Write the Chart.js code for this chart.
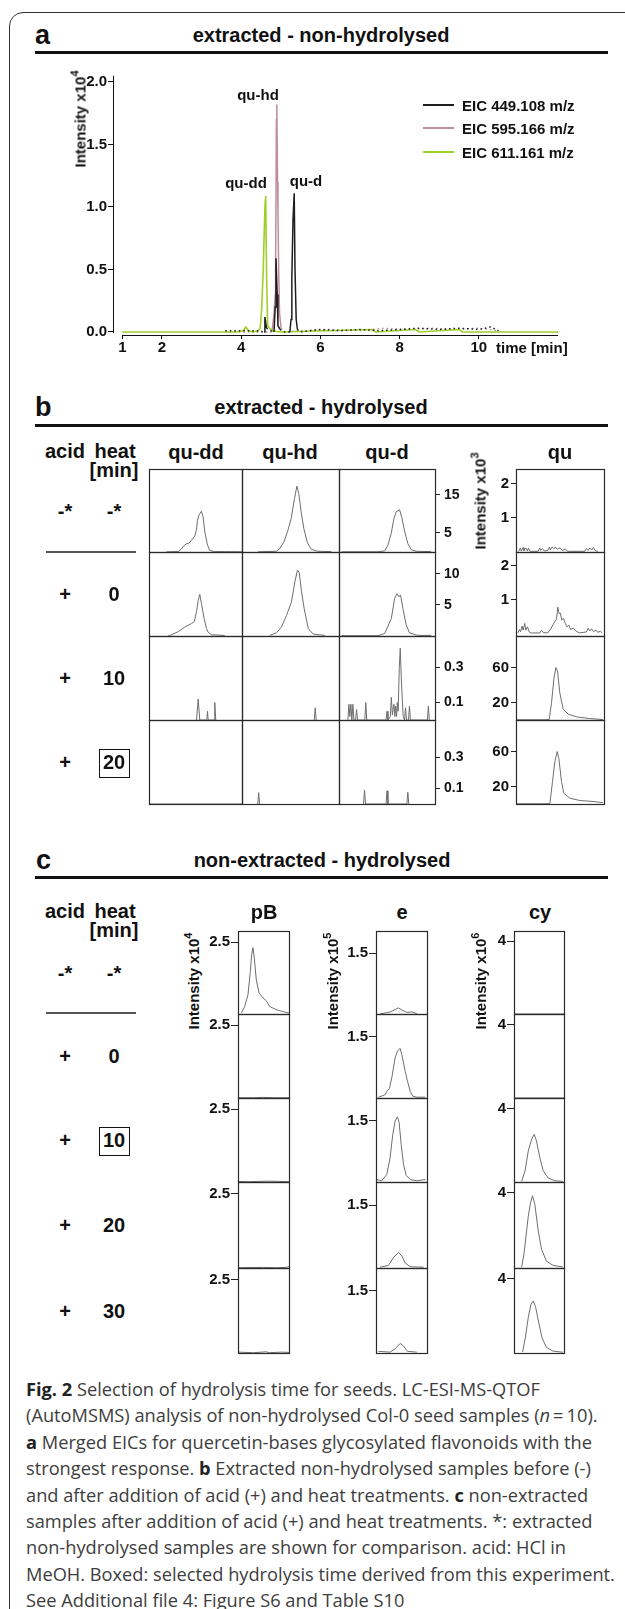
<!DOCTYPE html>
<html><head><meta charset="utf-8">
<script src="https://cdn.jsdelivr.net/npm/chart.js@4/dist/chart.umd.min.js"></script>
<style>
html,body{margin:0;padding:0;background:#fff}
body{width:625px;height:1609px;overflow:hidden;position:relative;font-family:"Liberation Sans",Arial,Helvetica,sans-serif;color:#111}
.t{position:absolute;white-space:nowrap;font-weight:bold;line-height:1;transform:translate(-50%,-50%)}
.l{position:absolute;white-space:nowrap;font-weight:bold;line-height:1;transform:translate(0,-50%)}
.rot{position:absolute;white-space:nowrap;font-weight:bold;line-height:1;font-size:15px;transform:translate(-50%,-50%) rotate(-90deg)}
.sup{font-size:11px;position:relative;top:-7px}
.rule{position:absolute;background:#111}
canvas{position:absolute}
#frame{position:absolute;left:9px;top:12px;width:700px;height:1700px;border:1.5px solid #333;border-radius:14px}
#cap{position:absolute;left:26px;top:1376px;font-family:"Open Sans",sans-serif;color:#3d3d3d;white-space:nowrap;line-height:26.4px}
#cap b{color:#222;font-weight:700}
</style>
</head><body>
<div id="frame"></div>
<script>
// ---------------- DATA ----------------
// Panel a: merged EICs (time [min], intensity x10^4)
const eic449Time = [3.6, 4.4, 4.58, 4.60, 4.64, 4.75, 4.83, 4.86, 4.88, 4.91, 4.93, 4.98, 5.1, 5.23, 5.26, 5.28, 5.31, 5.34, 5.36, 5.39, 5.42, 5.49, 6.0, 6.5, 7.0, 7.5, 8.0, 8.5, 9.0, 9.5, 10.0, 10.3, 10.5];
const eic449Int  = [0.01, 0.01, 0, 0.12, 0.03, 0.01, 0, 0.2, 0.59, 0.3, 0.05, 0.02, 0, 0, 0.1, 0.44, 0.9, 1.11, 0.5, 0.1, 0.02, 0, 0.02, 0.01, 0.02, 0.01, 0.02, 0.03, 0.02, 0.03, 0.02, 0.04, 0.01];
const eic595Time = [3.6, 4.5, 4.78, 4.83, 4.86, 4.87, 4.89, 4.90, 4.92, 4.93, 4.95, 4.97, 5.01, 5.06, 5.5, 6.2, 7.0, 7.6, 8.2, 8.8, 9.4, 10.0, 10.5];
const eic595Int  = [0, 0, 0, 0.15, 0.3, 0.5, 1.7, 1.82, 1.2, 0.95, 0.45, 0.15, 0.03, 0, 0.01, 0.02, 0.01, 0.03, 0.02, 0.03, 0.02, 0.03, 0.01];
const eic611Time = [1, 3.9, 4.05, 4.12, 4.18, 4.3, 4.43, 4.48, 4.52, 4.56, 4.60, 4.62, 4.64, 4.67, 4.72, 4.78, 5.0, 7.3, 7.4, 8.4, 8.5, 9.5, 9.6, 12];
const eic611Int  = [0, 0, 0.01, 0.04, 0.01, 0, 0.01, 0.03, 0.19, 0.52, 1.0, 1.09, 0.5, 0.05, 0.03, 0.01, 0, 0.02, 0, 0.02, 0, 0.02, 0, 0];
const aSeriesLabels = ['EIC 449.108 m/z', 'EIC 595.166 m/z', 'EIC 611.161 m/z'];
const aXTicks = [1, 2, 4, 6, 8, 10];
const aYTicks = [0, 0.5, 1.0, 1.5, 2.0];
const aPeakLabels = ['qu-hd', 'qu-dd', 'qu-d'];

// Panel b: extracted - hydrolysed (relative retention position 0-100, intensity x10^3)
const bColumns = ['qu-dd', 'qu-hd', 'qu-d', 'qu'];
const bAcid = ['-*', '+', '+', '+'];
const bHeat = ['-*', '0', '10', '20'];
const quddR1 = [[18.9,0.05],[31.4,0.1],[35,0.8],[36.8,1.5],[40.4,2.2],[42.9,2.3],[45.7,3.1],[49.3,4.2],[51.1,6.0],[52.1,8.3],[53.9,9.8],[56.4,10.7],[58.2,9.2],[60,5.3],[62.9,1.8],[65.4,0.4],[70.7,0.1],[81.4,0.1],[100,0.05]];
const quhdR1 = [[16.6,0.05],[35.5,0.2],[38.6,0.8],[43.1,2.6],[46.9,5.3],[50.7,8.8],[54.1,14.0],[56.6,17.3],[58.6,15.3],[61,10.5],[63.8,6.1],[67.2,2.6],[71.4,0.7],[78.3,0.2],[92.1,0.1]];
const qudR1  = [[2.8,0.05],[40.7,0.05],[47.6,0.3],[51,1.8],[54.5,5.0],[57.2,8.8],[59.7,10.6],[63.1,11.1],[65.5,9.0],[68.3,5.5],[71.7,2.2],[75.2,0.6],[80.3,0.2],[95.9,0.1]];
const quddR2 = [[20.7,0.05],[24.3,0.2],[31.4,0.7],[38.6,1.45],[45.7,2.0],[48.6,2.3],[51.1,3.9],[52.9,5.7],[54.6,6.7],[56.4,5.2],[59.3,2.8],[61.8,1.2],[63.6,0.6],[67.1,0.2],[81.4,0.1]];
const quhdR2 = [[28.6,0.1],[35.5,0.5],[40.7,1.45],[45.9,3.3],[51,5.5],[54.5,8.7],[57.2,10.6],[59,10.2],[61.4,7.1],[64.1,4.4],[68.3,1.2],[73.4,0.3],[85.5,0.1]];
const qudR2  = [[2.8,0.05],[40.7,0.05],[47.6,0.4],[54.5,2.8],[57.9,6.0],[60.3,6.8],[62.4,6.3],[64.1,6.6],[66.6,4.4],[70,1.8],[73.4,0.5],[82,0.1],[95.9,0.1]];
const quddR3 = [[51.1,0],[52.9,0.12],[54.6,0],[62.1,0],[62.9,0.05],[63.6,0],[70,0],[70.7,0.1],[71.8,0]];
const quhdR3 = [[74.5,0],[75.5,0.07],[76.5,0]];
const qudR3  = [[9.3,0],[10.3,0.09],[11.3,0.02],[12.4,0.09],[13.4,0],[14.5,0.09],[15.5,0],[17.3,0],[18.3,0.06],[19.3,0],[26.9,0],[27.9,0.1],[28.9,0],[49,0],[50,0.05],[51,0],[53.5,0.02],[54.5,0.13],[55.6,0.03],[57.2,0.09],[58.2,0.02],[59,0.08],[60,0.02],[60.7,0.1],[61.6,0.05],[62.8,0.3],[63.8,0.41],[64.8,0.25],[65.9,0.12],[66.9,0.02],[68.3,0],[69.3,0.07],[70.3,0],[72.4,0],[73.4,0.08],[74.4,0],[92.1,0],[93.1,0.08],[94.1,0]];
const quddR4 = [[0,0],[100,0]];
const quhdR4 = [[16.2,0],[17.2,0.073],[18.2,0]];
const qudR4  = [[25.6,0],[26.6,0.09],[27.6,0],[49,0],[50,0.085],[51,0],[70.7,0],[71.7,0.075],[72.7,0]];
const quR1 = [[3,0.02],[5,0.12],[6,0.03],[8,0.13],[9,0.04],[11,0.12],[13,0.03],[14,0.11],[16,0.02],[25,0.02],[27,0.12],[28,0.05],[30,0.1],[32,0.03],[36,0.05],[38,0.14],[39,0.06],[41,0.15],[43,0.1],[45,0.14],[47,0.08],[50,0.12],[53,0.04],[56,0.09],[58,0.03],[60,0.02],[78,0.02],[80,0.1],[82,0.05],[84,0.12],[86,0.06],[88,0.13],[90,0.04],[93,0.02]];
const quR2 = [[2,0.02],[4,0.12],[5,0.05],[7,0.22],[8,0.1],[10,0.3],[11,0.1],[13,0.2],[15,0.05],[17,0.02],[27,0.02],[29,0.1],[31,0.03],[36,0.02],[40,0.16],[42,0.26],[44,0.35],[46,0.42],[47.5,0.78],[49,0.59],[50.5,0.6],[52,0.4],[54,0.45],[56,0.3],[58,0.2],[60,0.25],[62,0.12],[65,0.16],[68,0.08],[72,0.02],[80,0.05],[82,0.16],[84,0.08],[86,0.14],[88,0.06],[91,0.1],[93,0.04],[96,0.07],[98,0.02]];
const quR3 = [[0,0.3],[30,0.3],[37.7,0.5],[40.4,20],[43,46.6],[45.3,60],[47.2,56],[49.8,31],[53.6,12.4],[59.2,6.7],[68.7,3.6],[83.8,1.7],[98.9,0.5]];
const quR4 = [[0,0.3],[30,0.3],[38.5,0.5],[41.5,25.7],[44.2,48.6],[46.8,60],[48.7,52],[51.7,25.7],[54.3,12.4],[61.1,6.7],[72.5,4],[87.5,2.9],[98.9,1.5]];
const bRowMin = [0, 0, 0, 0];
const bRowMax = [21.8, 13.5, 0.48, 0.54];
const bRowTicks = [[5, 15], [5, 10], [0.1, 0.3], [0.1, 0.3]];
const quRowMin = [0, -0.07, 0, 0];
const quRowMax = [2.44, 2.4, 96, 96];
const quRowTicks = [[1, 2], [1, 2], [20, 60], [20, 60]];

// Panel c: non-extracted - hydrolysed
const cColumns = ['pB', 'e', 'cy'];
const cExponents = ['4', '5', '6'];
const cAcid = ['-*', '+', '+', '+', '+'];
const cHeat = ['-*', '0', '10', '20', '30'];
const pbR1 = [[6.5,0.03],[13.1,0.26],[19.6,0.67],[24.2,1.48],[26.8,2.06],[29.4,2.31],[32,1.94],[35.9,1.19],[41.2,0.73],[49,0.56],[55.6,0.46],[62.1,0.26],[75.2,0.15],[85,0.1],[91.5,0.07],[100,0.03]];
const pbR2 = [[0,0.01],[30,0.01],[50,0.02],[70,0.01],[100,0.01]];
const pbR3 = [[0,0.02],[20,0.01],[40,0.02],[60,0.03],[80,0.02],[100,0.01]];
const pbR4 = [[0,0.01],[50,0.02],[75,0.01],[95,0.02],[100,0.05]];
const pbR5 = [[0,0.03],[30,0.01],[55,0.04],[62,0.01],[85,0.03],[100,0.02]];
const eR1 = [[7.9,0],[27.6,0.05],[37.5,0.11],[44.1,0.15],[50.7,0.1],[60.5,0.04],[70.4,0.05],[80.3,0.01]];
const eR2 = [[4.6,0.015],[17.8,0.08],[21.1,0.16],[26.3,0.23],[30.9,0.49],[37.5,0.98],[42.1,1.15],[47.4,1.21],[50.7,1.06],[57.2,0.65],[61.8,0.41],[67.1,0.16],[72.4,0.04],[80.3,0.02],[96.7,0.02]];
const eR3 = [[1.3,0.06],[11.2,0.03],[21.1,0.18],[27.6,0.59],[32.9,1.16],[37.5,1.49],[42.1,1.59],[45.4,1.45],[49.3,0.92],[53.9,0.43],[59.2,0.16],[67.1,0.06],[80.3,0.03],[96.7,0.06]];
const eR4 = [[7.9,0.02],[24.3,0.06],[34.2,0.25],[44.1,0.37],[50.7,0.29],[57.2,0.12],[67.1,0.03],[93.4,0.02]];
const eR5 = [[4.6,0.04],[27.6,0.02],[37.5,0.1],[47.4,0.23],[53.9,0.17],[61.8,0.04],[80.3,0.02]];
const cyR1 = [[0,0],[100,0]];
const cyR2 = [[0,0],[100,0]];
const cyR3 = [[15.2,0.03],[21.9,0.58],[28.5,1.68],[35.1,2.32],[40.4,2.59],[45,2.23],[51.7,1.32],[58.3,0.62],[68.2,0.22],[81.5,0.07],[98,0.03]];
const cyR4 = [[15.2,0.04],[19.9,0.73],[28.5,2.74],[33.1,3.47],[37.1,3.84],[41.7,3.38],[48.3,2.01],[55,1.0],[64.9,0.36],[78.1,0.14],[98,0.05]];
const cyR5 = [[17.2,0.05],[22.5,0.8],[28.5,1.9],[33.8,2.6],[38.4,2.8],[43,2.5],[49.7,1.6],[56.3,0.8],[64.9,0.3],[78.1,0.1],[98,0.04]];
const cColMax = [2.89, 2.05, 4.57];
const cColTicks = [[2.5], [1.5], [4]];

const captionLines = [
  '<b>Fig. 2</b> Selection of hydrolysis time for seeds. LC-ESI-MS-QTOF',
  '(AutoMSMS) analysis of non-hydrolysed Col-0 seed samples (<i>n</i>\u2009=\u200910).',
  '<b>a</b> Merged EICs for quercetin-bases glycosylated flavonoids with the',
  'strongest response. <b>b</b> Extracted non-hydrolysed samples before (-)',
  'and after addition of acid (+) and heat treatments. <b>c</b> non-extracted',
  'samples after addition of acid (+) and heat treatments. *: extracted',
  'non-hydrolysed samples are shown for comparison. acid: HCl in',
  'MeOH. Boxed: selected hydrolysis time derived from this experiment.',
  'See Additional file 4: Figure S6 and Table S10'
];

// ---------------- LAYOUT HELPERS ----------------
const FONT = '"Liberation Sans", Arial, Helvetica, sans-serif';
Chart.defaults.font.family = FONT;
Chart.defaults.font.weight = 'bold';
Chart.defaults.color = '#111';

function el(cls, html, x, y, size, extra) {
  const d = document.createElement('div');
  d.className = cls; d.innerHTML = html;
  d.style.left = x + 'px'; d.style.top = y + 'px';
  if (size) d.style.fontSize = size + 'px';
  if (extra) Object.assign(d.style, extra);
  document.body.appendChild(d); return d;
}
function rule(x, y, w, h, color) {
  const d = document.createElement('div'); d.className = 'rule';
  Object.assign(d.style, {left: x + 'px', top: y + 'px', width: w + 'px', height: h + 'px', background: color || '#111'});
  document.body.appendChild(d);
}
function box(x, y, w, h) {
  const d = document.createElement('div');
  Object.assign(d.style, {position: 'absolute', left: x + 'px', top: y + 'px', width: w + 'px', height: h + 'px', border: '1.5px solid #111', boxSizing: 'border-box'});
  document.body.appendChild(d);
}
function addCanvas(x, y, w, h) {
  const c = document.createElement('canvas');
  c.width = w; c.height = h;
  c.style.left = x + 'px'; c.style.top = y + 'px'; c.style.width = w + 'px'; c.style.height = h + 'px';
  document.body.appendChild(c); return c;
}
const framePlugin = {
  id: 'frame',
  afterDatasetsDraw(chart, args, opts) {
    if (!opts || !opts.show) return;
    const a = chart.chartArea, c = chart.ctx;
    c.save(); c.strokeStyle = '#2a2a2a'; c.lineWidth = 1.2;
    c.strokeRect(Math.round(a.left) + 0.5, Math.round(a.top) + 0.5, Math.round(a.right - a.left), Math.round(a.bottom - a.top));
    c.restore();
  }
};

function cell(L, T, R, B, data, ymin, ymax, axis) {
  const P = 6, VP = 22, aw = axis ? axis.w : 0;
  const left = L - P - (axis && axis.side === 'left' ? aw : 0);
  const top = T - VP;
  const W = (R - L) + 2 * P + aw, H = (B - T) + 2 * VP;
  const cv = addCanvas(left, top, W, H);
  const y = {min: ymin, max: ymax, display: !!axis};
  if (axis) Object.assign(y, {
    position: axis.side,
    afterFit: s => { s.width = aw; },
    afterBuildTicks: s => { s.ticks = axis.ticks.map(v => ({value: v})); },
    ticks: {font: {size: axis.fs, weight: 'bold', family: FONT}, color: '#111', padding: axis.pad, callback: v => String(v)},
    grid: {drawOnChartArea: false, tickLength: axis.tl, color: '#222', lineWidth: 1},
    border: {display: false}
  });
  new Chart(cv, {
    type: 'line',
    data: {datasets: [{data: data.map(p => ({x: p[0], y: p[1]})), borderColor: '#6e6e6e', borderWidth: 1, pointRadius: 0, tension: 0, clip: false}]},
    options: {
      responsive: false, animation: false, devicePixelRatio: 1, events: [],
      layout: {padding: {left: P, right: P, top: VP, bottom: VP}},
      scales: {x: {type: 'linear', min: 0, max: 100, display: false}, y},
      plugins: {legend: {display: false}, tooltip: {enabled: false}, frame: {show: true}}
    },
    plugins: [framePlugin]
  });
}

// ---------------- PANEL A ----------------
el('l', 'a', 35, 35, 27);
el('t', 'extracted - non-hydrolysed', 321, 35, 20);
rule(35, 51, 573, 3);

const zip = (t, v) => t.map((x, i) => ({x, y: v[i]}));
const aColors = ['#1e1e1e', '#c08e98', '#9fd027'];
const noiseDots = {borderDash: c => (c.p0.parsed.y < 0.05 && c.p1.parsed.y < 0.05) ? [1.5, 3] : undefined};
const aCv = addCanvas(60, 56, 540, 316);
const axesPlugin = {
  id: 'axesA',
  afterDraw(ch) {
    const c = ch.ctx, xs = ch.scales.x, ys = ch.scales.y;
    c.save(); c.strokeStyle = '#111'; c.lineWidth = 1;
    const yb = Math.round(ch.chartArea.bottom) + 0.5;
    c.beginPath(); c.moveTo(xs.getPixelForValue(1), yb); c.lineTo(xs.getPixelForValue(12), yb); c.stroke();
    const xl = Math.round(ch.chartArea.left) - 0.5;
    c.beginPath(); c.moveTo(xl, ys.getPixelForValue(2.05)); c.lineTo(xl, ys.getPixelForValue(0) + 1); c.stroke();
    c.restore();
  }
};
new Chart(aCv, {
  type: 'line',
  data: {datasets: [
    {label: aSeriesLabels[0], data: zip(eic449Time, eic449Int), borderColor: aColors[0], borderWidth: 1.5, pointRadius: 0, tension: 0, segment: noiseDots},
    {label: aSeriesLabels[2], data: zip(eic611Time, eic611Int), borderColor: aColors[2], borderWidth: 1.6, pointRadius: 0, tension: 0},
    {label: aSeriesLabels[1], data: zip(eic595Time, eic595Int), borderColor: aColors[1], borderWidth: 1.5, pointRadius: 0, tension: 0, segment: noiseDots}
  ]},
  options: {
    responsive: false, animation: false, devicePixelRatio: 1, events: [],
    layout: {padding: {left: 14, right: 42, top: 19.7, bottom: 11.9}},
    scales: {
      x: {type: 'linear', min: 0.79, max: 12.0,
        afterFit: s => { s.height = 25; },
        afterBuildTicks: s => { s.ticks = aXTicks.map(v => ({value: v})); },
        ticks: {font: {size: 15, weight: 'bold'}, color: '#111', padding: 0, maxRotation: 0, callback: v => String(v)},
        grid: {drawOnChartArea: false, tickLength: 4, color: '#111'}, border: {display: false}},
      y: {min: -0.025, max: 2.05,
        afterFit: s => { s.width = 40; },
        afterBuildTicks: s => { s.ticks = aYTicks.map(v => ({value: v})); },
        ticks: {font: {size: 15, weight: 'bold'}, color: '#111', padding: 1, callback: v => v.toFixed(1)},
        grid: {drawOnChartArea: false, tickLength: 6, color: '#111'}, border: {display: false}}
    },
    plugins: {legend: {display: false}, tooltip: {enabled: false}}
  },
  plugins: [axesPlugin]
});
el('rot', 'Intensity x10<span class="sup">4</span>', 80, 119);
el('l', 'time [min]', 496, 347, 15);
// legend
[105, 128, 152].forEach((yy, i) => {
  rule(423, yy - 1, 31, 2, aColors[i]);
  el('l', aSeriesLabels[i], 462, yy, 15);
});
el('t', aPeakLabels[0], 258, 94, 15);
el('t', aPeakLabels[1], 246, 182, 15);
el('t', aPeakLabels[2], 306, 180, 15);

// ---------------- PANEL B ----------------
el('l', 'b', 35, 407, 27);
el('t', 'extracted - hydrolysed', 321, 407, 20);
rule(35, 424, 573, 3);
el('t', 'acid', 65, 451, 20);
el('t', 'heat', 115, 451, 20);
el('t', '[min]', 114, 470, 20);
const bColX = [196, 290, 387, 560];
bColumns.forEach((n, i) => el('t', n, bColX[i], 452, 20));
const bX = [149, 242, 339, 435];
const bY = [469, 552, 636, 720, 804];
const quX = [516, 604];
const bTraces = [[quddR1, quhdR1, qudR1], [quddR2, quhdR2, qudR2], [quddR3, quhdR3, qudR3], [quddR4, quhdR4, qudR4]];
const quTraces = [quR1, quR2, quR3, quR4];
for (let r = 0; r < 4; r++) {
  for (let c = 0; c < 3; c++) {
    const ax = c === 2 ? {side: 'right', w: 40, ticks: bRowTicks[r], tl: 5, pad: 4, fs: 14} : null;
    cell(bX[c], bY[r], bX[c + 1], bY[r + 1], bTraces[r][c], bRowMin[r], bRowMax[r], ax);
  }
  cell(quX[0], bY[r], quX[1], bY[r + 1], quTraces[r], quRowMin[r], quRowMax[r], {side: 'left', w: 34, ticks: quRowTicks[r], tl: 5, pad: 2, fs: 15});
  const cy = (bY[r] + bY[r + 1]) / 2;
  el('t', bAcid[r], 65, cy, 20);
  el('t', bHeat[r], 114, cy, 20);
}
rule(46, 551, 90, 1.5, '#555');
box(99, 749, 31, 29);
el('rot', 'Intensity x10<span class="sup">3</span>', 480, 501);

// ---------------- PANEL C ----------------
el('l', 'c', 36, 860, 27);
el('t', 'non-extracted - hydrolysed', 322, 860, 20);
rule(35, 876, 573, 3);
el('t', 'acid', 65, 911, 20);
el('t', 'heat', 115, 911, 20);
el('t', '[min]', 114, 930, 20);
const cColX = [[238, 289], [376, 427], [514, 564]];
const cColCx = [264, 402, 540];
const cTitleX = [193, 332, 480];
const cY = [931, 1014, 1098, 1182, 1268, 1353];
const cTraces = [[pbR1, pbR2, pbR3, pbR4, pbR5], [eR1, eR2, eR3, eR4, eR5], [cyR1, cyR2, cyR3, cyR4, cyR5]];
cColumns.forEach((n, c) => {
  el('t', n, cColCx[c], 912, 20);
  el('rot', 'Intensity x10<span class="sup">' + cExponents[c] + '</span>', cTitleX[c], 981);
  for (let r = 0; r < 5; r++) {
    cell(cColX[c][0], cY[r], cColX[c][1], cY[r + 1], cTraces[c][r], 0, cColMax[c], {side: 'left', w: 36, ticks: cColTicks[c], tl: 7, pad: 1, fs: 15});
  }
});
for (let r = 0; r < 5; r++) {
  const cy = (cY[r] + cY[r + 1]) / 2;
  el('t', cAcid[r], 65, cy, 20);
  el('t', cHeat[r], 114, cy, 20);
}
rule(46, 1012, 90, 1.5, '#555');
box(99, 1127, 31, 29);

// ---------------- CAPTION ----------------
const cap = document.createElement('div'); cap.id = 'cap';
cap.innerHTML = captionLines.join('<br>');
document.body.appendChild(cap);
(function fit() {
  const cx = document.createElement('canvas').getContext('2d');
  cx.font = '100px "Open Sans"';
  const w = cx.measureText('MeOH. Boxed: selected hydrolysis time derived from this experiment.').width;
  cap.style.fontSize = (100 * 589 / w).toFixed(2) + 'px';
})();
</script>
</body></html>
